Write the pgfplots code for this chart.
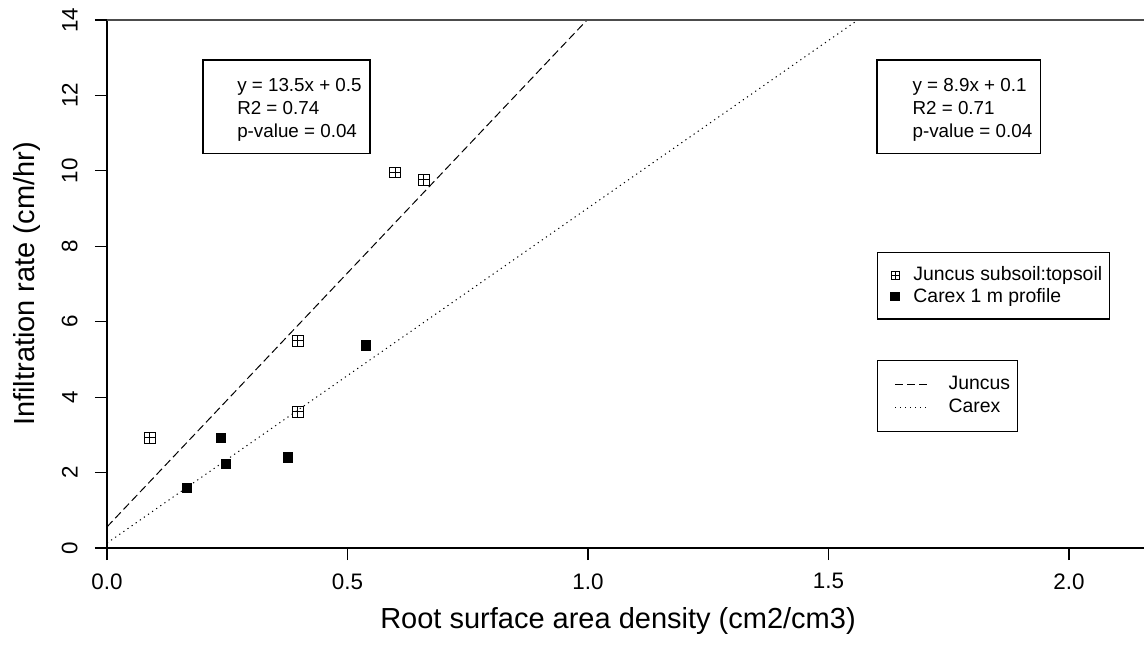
\documentclass[border=0pt]{standalone}
\usepackage{fontspec}
\setmainfont{Liberation Sans}
\usepackage{pgfplots}
\pgfplotsset{compat=1.18}
\pgfdeclareplotmark{boxplus}{%
  \pgfpathrectangle{\pgfpoint{-\pgfplotmarksize}{-\pgfplotmarksize}}{\pgfpoint{2\pgfplotmarksize}{2\pgfplotmarksize}}%
  \pgfpathmoveto{\pgfpoint{-\pgfplotmarksize}{0pt}}\pgfpathlineto{\pgfpoint{\pgfplotmarksize}{0pt}}%
  \pgfpathmoveto{\pgfpoint{0pt}{-\pgfplotmarksize}}\pgfpathlineto{\pgfpoint{0pt}{\pgfplotmarksize}}%
  \pgfusepathqstroke}
\pgfplotsset{
  markleg/.style={legend image code/.code={\path (-4.9pt,0pt) (1.9pt,0pt);\draw[##1, mark size=2pt] plot coordinates {(0pt,0pt)};}},
  lineleg/.style={legend image code/.code={\path (-5pt,0pt);\draw[##1] (0pt,0pt) -- (17pt,0pt);}},
  common/.style={scale only axis, width=518.5pt, height=264pt,
    xmin=0, xmax=2.156, ymin=0, ymax=14, clip=false}
}
\begin{document}
\begin{tikzpicture}
\begin{axis}[common,
  axis lines=left, axis line style={-, line width=0.8pt},
  tick align=outside, major tick length=6pt, tick style={line width=0.6pt, black},
  xtick={0,0.5,1,1.5,2}, xticklabels={0.0,0.5,1.0,1.5,2.0},
  ytick={0,2,4,6,8,10,12,14}, yticklabels={0,2,4,6,8,10,12,14},
  ticklabel style={font=\fontsize{11.2}{13}\selectfont},
  xticklabel style={anchor=north, inner sep=0pt, yshift=-6.5pt},
  yticklabel style={inner sep=0pt, anchor=south, xshift=-8.5pt, rotate=90},
  xlabel={Root surface area density (cm2/cm3)},
  ylabel={Infiltration rate (cm/hr)},
  every axis x label/.style={at={(axis description cs:0.5,0)}, anchor=center, xshift=-3.75pt, yshift=-36.5pt, font=\fontsize{14.5}{17}\selectfont},
  every axis y label/.style={at={(axis description cs:0,0.5)}, anchor=center, xshift=-40pt, rotate=90, font=\fontsize{14.5}{17}\selectfont},
  legend style={at={(axis cs:1.601,7.85)}, anchor=north west, draw=black, line width=0.6pt,
    font=\fontsize{9.7}{11}\selectfont, inner xsep=3.5pt, inner ysep=7pt, row sep=2.2pt,
    nodes={inner sep=0pt},
    /tikz/every odd column/.append style={column sep=7pt}},
  legend cell align=left,
]
\addplot[forget plot, black, line width=0.5pt, dash pattern=on 4pt off 2pt] coordinates {(0,0.56) (0.998,14)};
\addplot[forget plot, black, line width=0.5pt, dash pattern=on 0.6pt off 1.9pt] coordinates {(0,0.13) (1.561,14)};
\addplot[only marks, mark=boxplus, mark size=2.6pt, mark options={line width=0.5pt, black}, markleg]
  coordinates {(0.089,2.92) (0.397,5.49) (0.397,3.61) (0.599,9.95) (0.659,9.76)};
\addlegendentry{Juncus subsoil:topsoil}
\addplot[only marks, mark=square*, mark size=2.4pt, black, markleg]
  coordinates {(0.166,1.59) (0.237,2.92) (0.247,2.23) (0.376,2.41) (0.538,5.38)};
\addlegendentry{Carex 1 m profile}
\draw[black!70, line width=0.8pt] (rel axis cs:0,1) -- (rel axis cs:1,1);
\draw[line width=0.6pt] (axis cs:0.1996,12.94) rectangle (axis cs:0.547,10.47);
\node[anchor=west, align=left, inner sep=0pt, font=\fontsize{9.4}{11.5}\selectfont] at (axis cs:0.270,11.62) {y = 13.5x + 0.5\\R2 = 0.74\\p-value = 0.04};
\draw[line width=0.6pt] (axis cs:1.601,12.94) rectangle (axis cs:1.940,10.47);
\node[anchor=west, align=left, inner sep=0pt, font=\fontsize{9.4}{11.5}\selectfont] at (axis cs:1.674,11.62) {y = 8.9x + 0.1\\R2 = 0.71\\p-value = 0.04};
\end{axis}
\begin{axis}[common, hide axis,
  legend style={at={(axis cs:1.601,4.985)}, anchor=north west, draw=black, line width=0.6pt,
    font=\fontsize{9.7}{11}\selectfont, inner xsep=3.5pt, inner ysep=8pt, row sep=3.2pt,
    nodes={inner sep=0pt},
    /tikz/every odd column/.append style={column sep=9.5pt}},
  legend cell align=left,
]
\addlegendimage{black, line width=0.5pt, dash pattern=on 4pt off 2pt, lineleg}
\addlegendentry{Juncus}
\addlegendimage{black, line width=0.5pt, dash pattern=on 0.6pt off 1.9pt, lineleg}
\addlegendentry{Carex}
\end{axis}
\pgfresetboundingbox
\path[use as bounding box] (-53.5pt,-48.5pt) rectangle (518.5pt,274pt);
\end{tikzpicture}
\end{document}
